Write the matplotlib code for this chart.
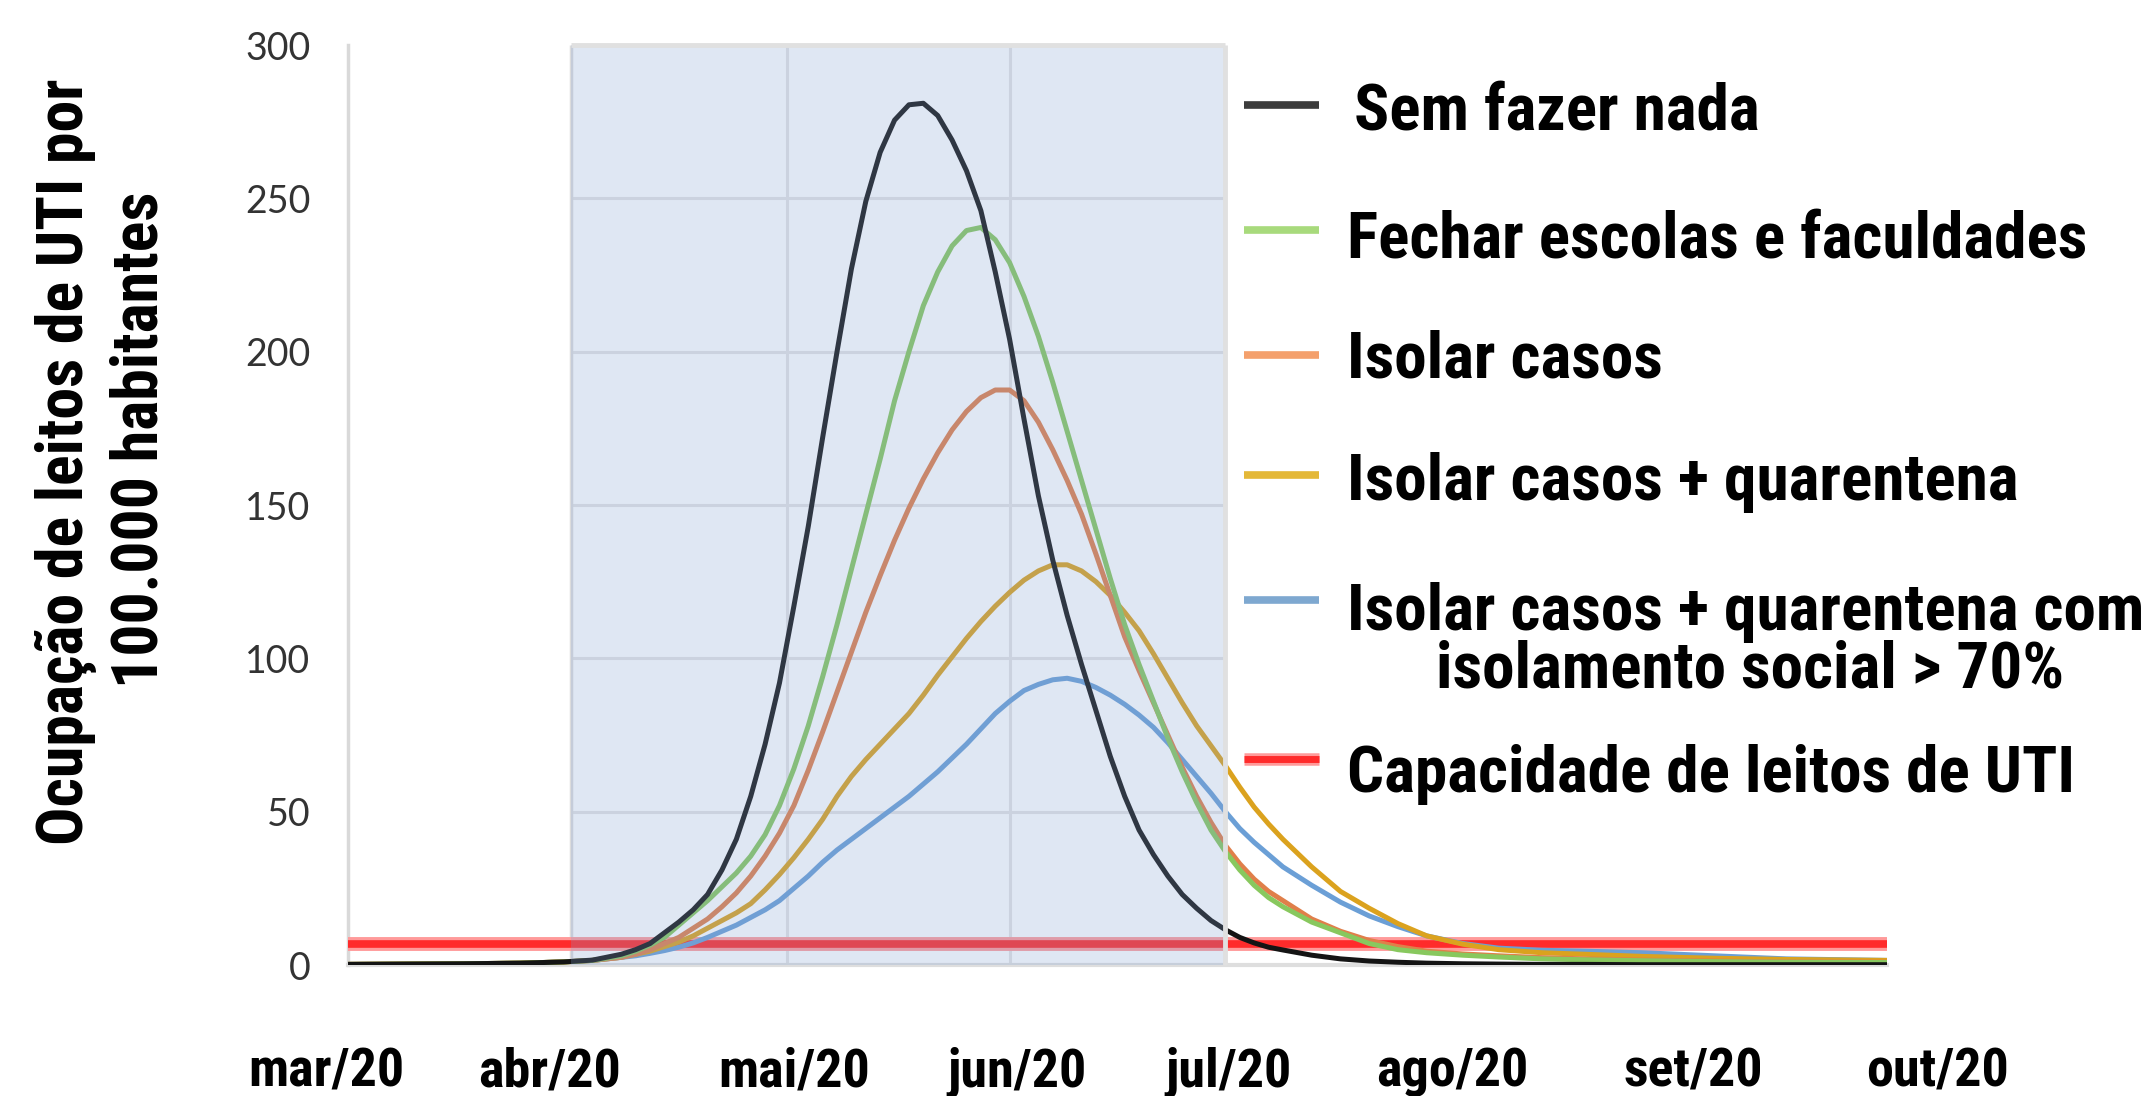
import matplotlib
matplotlib.use("Agg")
import matplotlib.pyplot as plt
from matplotlib import font_manager as fm
from matplotlib.lines import Line2D
from matplotlib.transforms import blended_transform_factory

# ---------------- data ----------------
days = [0, 8, 16, 24, 30, 34, 38,
        40, 42, 44, 46, 48, 50, 52, 54, 56, 58, 60, 62, 64, 66, 68, 70, 72, 74,
        76, 78, 80, 82, 84, 86, 88, 90, 92, 94, 96, 98, 100, 102, 104, 106, 108,
        110, 112, 114, 116, 118, 120, 122, 124, 126, 128, 130,
        134, 138, 142, 146, 150, 155, 160, 166, 172, 180, 190, 200, 214]

sem_fazer_nada = [0.2, 0.3, 0.4, 0.6, 1.0, 1.6, 3.5,
                  5.0, 7.0, 10.5, 14, 18, 23, 31, 41, 55, 72, 92, 117, 143, 172, 200, 227, 249, 265,
                  275.5, 280.5, 281, 277, 269, 259, 246, 226, 204, 178, 153, 132, 114, 98, 83, 68, 55,
                  44, 36, 29, 23, 18.5, 14.5, 11.5, 9, 7.2, 5.8, 4.9,
                  3.2, 2.0, 1.3, 0.9, 0.6, 0.4, 0.3, 0.2, 0.2, 0.1, 0.1, 0.1, 0.1]

fechar_escolas = [0.2, 0.3, 0.4, 0.6, 1.0, 1.5, 3.0,
                  4.5, 6.5, 9.0, 13, 17, 21, 25.5, 30, 35.5, 42.5, 52, 64, 78, 94, 111, 129, 147, 165,
                  184, 200, 215, 226, 234.5, 239.5, 240.5, 236.5, 229, 218, 205, 190, 174, 158, 142, 126, 111,
                  98, 86, 74, 63, 53, 44, 37, 31, 26, 22, 19,
                  14, 10.5, 7, 5, 4, 3.2, 2.6, 2.0, 1.7, 1.4, 1.1, 0.9, 0.8]

isolar_casos = [0.2, 0.3, 0.4, 0.6, 1.0, 1.5, 2.5,
                3.5, 5.0, 7.0, 9, 12, 15, 19, 23.5, 29, 35.5, 43, 52, 63.5, 76, 89, 102, 115, 127,
                138.5, 149, 158.5, 167, 174.5, 180.5, 185, 187.5, 187.5, 184, 177, 168, 158, 147, 134, 120.5, 107,
                96, 85.5, 75, 64.5, 55, 46.5, 39, 33, 28, 24, 21,
                15, 11, 8, 6, 4.5, 3.6, 3.0, 2.4, 2.0, 1.6, 1.3, 1.0, 0.9]

isolar_quarentena = [0.2, 0.3, 0.4, 0.6, 1.0, 1.5, 2.5,
                     3.5, 4.5, 6.0, 7.5, 9.5, 12, 14.5, 17, 20, 24.5, 29.5, 35, 41, 47.5, 55, 61.5, 67, 72,
                     77, 82, 88, 94.5, 100.5, 106.5, 112, 117, 121.5, 125.5, 128.5, 130.5, 130.5, 128.5, 125, 120.5, 115,
                     109, 101.5, 93.5, 85.5, 78, 71.5, 65, 58, 51.5, 46, 41,
                     32, 24, 18.5, 13.5, 9.5, 6.8, 5, 4, 3.5, 2.8, 2.2, 1.8, 1.5]

isolar_quarentena_isol = [0.2, 0.3, 0.4, 0.6, 1.0, 1.5, 2.5,
                          3.0, 3.8, 4.7, 5.8, 7.2, 9, 11, 13, 15.5, 18, 21, 25, 29, 33.5, 37.5, 41, 44.5, 48,
                          51.5, 55, 59, 63, 67.5, 72, 77, 82, 86, 89.5, 91.5, 93, 93.5, 92.5, 90.5, 88, 85,
                          81.5, 77.5, 72.5, 67, 61.5, 56, 50, 44.5, 40, 36, 32,
                          26, 20.5, 16, 12.5, 9.5, 7, 5.5, 4.8, 4.5, 4, 3, 2, 1.5]

capacidade_uti = 7

series = [sem_fazer_nada, fechar_escolas, isolar_casos, isolar_quarentena, isolar_quarentena_isol]
series_names = ["Sem fazer nada",
                "Fechar escolas e faculdades",
                "Isolar casos",
                "Isolar casos + quarentena",
                "Isolar casos + quarentena com\nisolamento social > 70%"]
capacity_name = "Capacidade de leitos de UTI"

month_labels = ["mar/20", "abr/20", "mai/20", "jun/20", "jul/20", "ago/20", "set/20", "out/20"]
month_starts = [0, 31, 61, 92, 122, 153, 184, 214]
label_days = [-3, 28, 62, 93, 122.5, 153.5, 187, 221]
yticks = [0, 50, 100, 150, 200, 250, 300]
ylabel_lines = ["Ocupação de leitos de UTI por", "100.000 habitantes"]

# ---------------- styling ----------------
line_colors = ["#141414", "#88c85e", "#e07f4a", "#dba21e", "#6b9fd6"]
swatch_colors = ["#3c3c3c", "#a8da7c", "#f4a06c", "#e4b838", "#7ea8d0"]
red = "#ff2b2b"

W, H, DPI = 2156, 1096, 100


def pick(fams):
    for f in fams:
        try:
            fm.findfont(fm.FontProperties(family=f), fallback_to_default=False)
            return f
        except Exception:
            pass
    return "DejaVu Sans"


NARROW = pick(["Liberation Sans Narrow", "DejaVu Sans Condensed", "Roboto Condensed",
               "Liberation Sans"])
TICKF = pick(["Lato", "Open Sans", "DejaVu Sans"])

fig = plt.figure(figsize=(W / DPI, H / DPI), dpi=DPI)
fig.patch.set_facecolor("white")

L, R, T, B = 348, 1887, 45, 965
ax = fig.add_axes([L / W, 1 - B / H, (R - L) / W, (B - T) / H])
ax.set_xlim(month_starts[0], month_starts[-1])
ax.set_ylim(yticks[0], yticks[-1])
for s in ax.spines.values():
    s.set_visible(False)
ax.set_xticks([])
ax.set_yticks(yticks)
ax.set_yticklabels([str(v) for v in yticks], fontfamily=TICKF, fontsize=27, color="#333333")
ax.tick_params(axis="y", length=0, pad=27)

shade_a, shade_b = month_starts[1], month_starts[4]

# gridlines only inside the highlighted period
ax.hlines(yticks[1:-1], shade_a, shade_b, colors="#e4e4e4", lw=2.2, zorder=1)
ax.vlines(month_starts[2:4], 0, 300, colors="#e4e4e4", lw=2.2, zorder=1)
ax.vlines([shade_a], 0, 300, colors="#dcdcdc", lw=2.5, zorder=1)
ax.vlines([shade_b], 0, 300, colors="#e0e0e0", lw=3.5, zorder=6, clip_on=False)
ax.hlines([300], shade_a, shade_b, colors="#e0e0e0", lw=3.5, zorder=6, clip_on=False)
ax.axvline(0, color="#d9d9d9", lw=2.5, zorder=1, clip_on=False)
ax.axhline(0, color="#dedede", lw=3, zorder=1, clip_on=False)

# capacity line (halo + core)
ax.axhline(capacidade_uti, color="#ff9a9a", lw=10, zorder=2, solid_capstyle="butt")
ax.axhline(capacidade_uti, color=red, lw=5.5, zorder=2, solid_capstyle="butt")

for vals, c in zip(series[::-1], line_colors[::-1]):
    ax.plot(days, vals, color=c, lw=3.6, zorder=3, solid_capstyle="round",
            solid_joinstyle="round")

# translucent blue highlight drawn over the curves
ax.axvspan(shade_a, shade_b, facecolor=(130 / 255, 160 / 255, 210 / 255), alpha=0.25,
           lw=0, zorder=5)

# x labels
tr = blended_transform_factory(ax.transData, fig.transFigure)
for d, lab in zip(label_days, month_labels):
    ax.text(d, 1 - 1086 / H, lab, transform=tr, ha="center", va="baseline",
            fontfamily=NARROW, fontweight="bold", fontsize=39, color="black", clip_on=False)

# y label (two rotated lines)
fig.text(83 / W, 1 - 462 / H, ylabel_lines[0], rotation=90, rotation_mode="anchor",
         ha="center", va="baseline", fontfamily=NARROW, fontweight="bold", fontsize=46)
fig.text(158 / W, 1 - 440 / H, ylabel_lines[1], rotation=90, rotation_mode="anchor",
         ha="center", va="baseline", fontfamily=NARROW, fontweight="bold", fontsize=46)

# legend (manual)
sw_x0, sw_x1 = 1244 / W, 1319 / W
sw_y = [105, 230, 355, 475, 600, 759]
txt_base = [130, 258, 377, 500, 630, 792]
txt_x = [1354, 1347, 1347, 1347, 1347, 1347]
LFS = 47
for i, name in enumerate(series_names):
    yy = 1 - sw_y[i] / H
    fig.add_artist(Line2D([sw_x0, sw_x1], [yy, yy], transform=fig.transFigure,
                          color=swatch_colors[i], lw=5.5, solid_capstyle="butt"))
    parts = name.split("\n")
    fig.text(txt_x[i] / W, 1 - txt_base[i] / H, parts[0], ha="left", va="baseline",
             fontfamily=NARROW, fontweight="bold", fontsize=LFS, color="black")
    if len(parts) > 1:
        fig.text(1750 / W, 1 - 687 / H, parts[1], ha="center", va="baseline",
                 fontfamily=NARROW, fontweight="bold", fontsize=LFS, color="black")

yy = 1 - sw_y[5] / H
fig.add_artist(Line2D([sw_x0, sw_x1], [yy, yy], transform=fig.transFigure,
                      color="#ff9a9a", lw=9, solid_capstyle="butt"))
fig.add_artist(Line2D([sw_x0, sw_x1], [yy, yy], transform=fig.transFigure,
                      color=red, lw=5, solid_capstyle="butt"))
fig.text(txt_x[5] / W, 1 - txt_base[5] / H, capacity_name, ha="left", va="baseline",
         fontfamily=NARROW, fontweight="bold", fontsize=LFS, color="black")

fig.savefig("out.png", dpi=DPI, facecolor="white")
